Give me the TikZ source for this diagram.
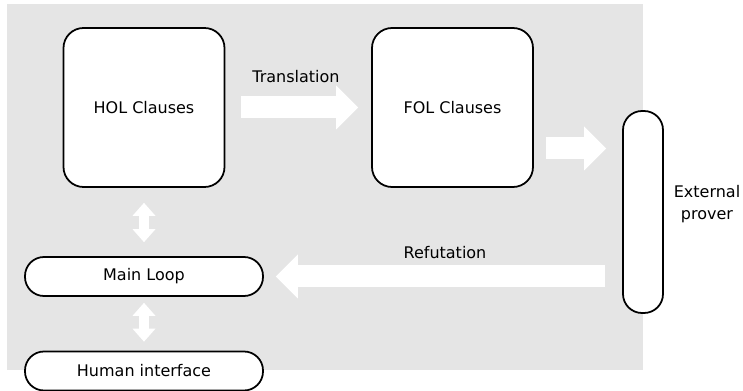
\documentclass[tikz,border=0pt]{standalone}
\usepackage{fontspec}
\setmainfont{DejaVu Sans}
\usetikzlibrary{arrows.meta, positioning}
\definecolor{panelcolor}{RGB}{229,229,229}

\begin{document}
\begin{tikzpicture}[
    font=\fontsize{9.1}{12.5}\selectfont,
    clausebox/.style={draw, line width=1pt, fill=white, rounded corners=0.4cm, minimum width=3.22cm, minimum height=3.18cm},
    pill/.style={draw, line width=1pt, fill=white, rounded corners=0.38cm, minimum width=4.76cm, minimum height=0.78cm},
    fat/.style={white, line width=0.44cm, -{Triangle[length=0.44cm, width=0.88cm, line width=0pt]}},
    dbl/.style={white, line width=0.2cm, {Triangle[length=0.26cm, width=0.46cm, line width=0pt]}-{Triangle[length=0.26cm, width=0.46cm, line width=0pt]}}
]
    \useasboundingbox (0,0) rectangle (14.86,7.82);
    % Panel
    \fill[panelcolor] (0.14,0.42) rectangle (12.86,7.74);

    % Components
    \node[clausebox] (hol) at (2.88,5.67) {HOL Clauses};
    \node[clausebox] (fol) at (9.05,5.67) {FOL Clauses};
    \node[pill, minimum width=0.8cm, minimum height=4.04cm] (ext) at (12.86,3.58) {};
    \node[pill] (main) at (2.88,2.29) {Main Loop};
    \node[pill] (human) at (2.88,0.40) {Human interface};
    \coordinate[below=0.82cm of fol.east] (folout);

    % Labels
    \node (translation) at (5.92,6.28) {Translation};
    \node (refutation) at (8.9,2.76) {Refutation};
    \node[align=center] (prover) at (14.14,3.74) {External\\prover};

    % Flows
    \draw[fat, shorten <=0.32cm, shorten >=0.26cm] (hol) -- (fol);
    \draw[fat, shorten <=0.24cm, shorten >=0.32cm] (folout) -- (folout -| ext.west);
    \draw[fat, shorten <=0.34cm, shorten >=0.24cm] (main.east -| ext.west) -- (main.east);
    \draw[dbl, shorten <=0.3cm, shorten >=0.28cm] (hol.south) -- (main.north);
    \draw[dbl, shorten <=0.12cm, shorten >=0.18cm] (main.south) -- (human.north);
\end{tikzpicture}
\end{document}
